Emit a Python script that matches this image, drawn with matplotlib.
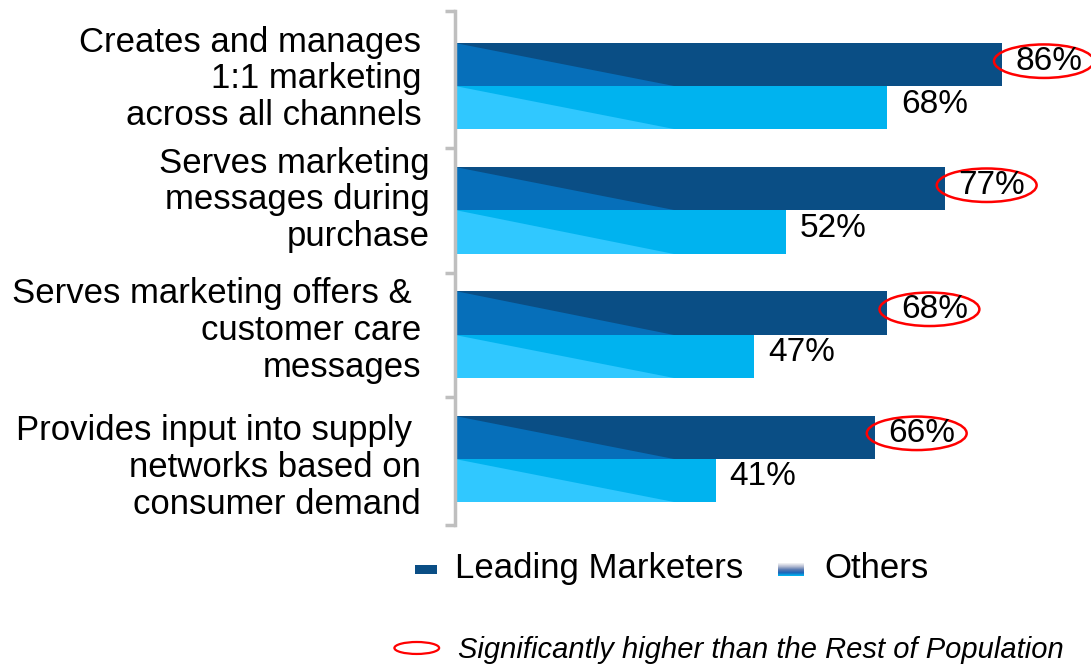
import numpy as np
import matplotlib
matplotlib.use("Agg")
import matplotlib.pyplot as plt
from matplotlib.patches import Ellipse, Polygon, Rectangle

plt.rcParams['font.family'] = ['Liberation Sans', 'DejaVu Sans']

# Survey results (% of respondents)
categories = [
    "Creates and manages\n1:1 marketing\nacross all channels",
    "Serves marketing\nmessages during\npurchase",
    "Serves marketing offers & \ncustomer care\nmessages",
    "Provides input into supply \nnetworks based on\nconsumer demand",
]
leading = [86, 77, 68, 66]
others = [68, 52, 47, 41]
significant = [True, True, True, True]
series_names = ["Leading Marketers", "Others"]
note_text = "Significantly higher than the Rest of Population"

# colours: base fill and lighter wedge on the left of each bar
dark_base, dark_wedge = "#0A4E85", "#066FBA"
light_base, light_wedge = "#00B3EF", "#30C8FF"
axis_grey = "#BFBFBF"

bar_h = 0.347
wedge_len = 34.5
label_nudge = [-0.06, -0.085, -0.035, 0.075]
label_x = [-5.3, -4.0, -5.3, -5.3]

fig = plt.figure(figsize=(10.91, 6.65), dpi=100)
ax = fig.add_axes([0.417, 0.211, 0.583, 0.773])

y = np.arange(len(categories))


def shaded_bar(yc_top, value, base, wedge):
    ax.barh(yc_top + bar_h / 2, value, height=bar_h, color=base, linewidth=0)
    w = min(wedge_len, value)
    tri = Polygon([(0, yc_top), (0, yc_top + bar_h), (w, yc_top + bar_h)],
                  closed=True, facecolor=wedge, edgecolor='none')
    ax.add_patch(tri)


for i in range(len(categories)):
    shaded_bar(y[i] - bar_h, leading[i], dark_base, dark_wedge)
    shaded_bar(y[i], others[i], light_base, light_wedge)

    # value labels
    ax.text(leading[i] + 2.2, y[i] - bar_h / 2 - 0.03, f"{leading[i]}%",
            fontsize=24, va='center', ha='left', color='black')
    ax.text(others[i] + 2.2, y[i] + bar_h / 2 - 0.03, f"{others[i]}%",
            fontsize=24, va='center', ha='left', color='black')
    if significant[i]:
        ax.add_patch(Ellipse((leading[i] + 6.6, y[i] - bar_h / 2 - 0.03),
                             15.7, 0.27, facecolor='none', edgecolor='#FF0000',
                             linewidth=1.8, clip_on=False))

    # category text, right-aligned left of the axis
    ax.text(label_x[i], y[i] + label_nudge[i], categories[i], fontsize=25,
            ha='right', va='center', multialignment='right',
            linespacing=1.15, color='black')

ax.set_xlim(0, 100)
ax.set_ylim(3.533, -0.611)
ax.set_xticks([])
ax.set_yticks([-0.611, 0.5, 1.5, 2.5, 3.533])
ax.set_yticklabels([])
ax.tick_params(axis='y', direction='out', length=7, width=2.5, color=axis_grey)
for side in ['top', 'right', 'bottom']:
    ax.spines[side].set_visible(False)
ax.spines['left'].set_color(axis_grey)
ax.spines['left'].set_linewidth(2.5)

# legend row
fig.patches.append(Rectangle((0.380, 0.137), 0.021, 0.0135,
                             transform=fig.transFigure, facecolor=dark_base,
                             edgecolor='none'))
fig.text(0.417, 0.1444, series_names[0], fontsize=25, va='center', ha='left')

grad_ax = fig.add_axes([0.713, 0.134, 0.023, 0.019])
grad = np.linspace(0, 1, 20)[:, None]
cmap = matplotlib.colors.LinearSegmentedColormap.from_list(
    "others_swatch", ["#F2F2F4", "#B4BCD2", "#5E7CB0", "#1C62B8", "#00B4F0"])
grad_ax.imshow(grad, aspect='auto', cmap=cmap)
grad_ax.axis('off')
fig.text(0.756, 0.1444, series_names[1], fontsize=25, va='center', ha='left')

# significance note
fig.patches.append(Ellipse((0.382, 0.0256), 0.041, 0.018,
                           transform=fig.transFigure, facecolor='none',
                           edgecolor='#FF0000', linewidth=1.6))
fig.text(0.42, 0.022, note_text, fontsize=21, style='italic',
         va='center', ha='left')

fig.savefig("out.png", dpi=100)
